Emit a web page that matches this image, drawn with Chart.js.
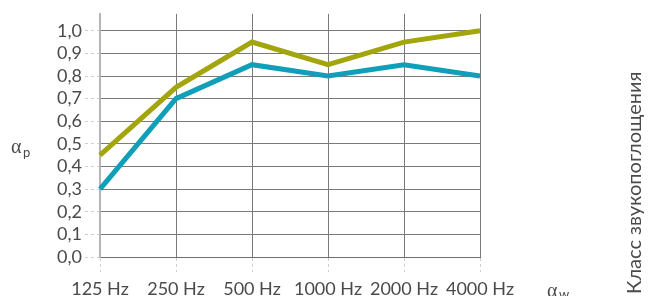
<!DOCTYPE html>
<html>
<head>
<meta charset="utf-8">
<script src="https://cdn.jsdelivr.net/npm/chart.js@4"></script>
<style>
  body { margin: 0; background: #fff; }
  canvas { display: block; }
</style>
</head>
<body>
<canvas id="absorptionChart" width="650" height="296"></canvas>
<script>
// Sound absorption chart
const frequencies = ['125 Hz', '250 Hz', '500 Hz', '1000 Hz', '2000 Hz', '4000 Hz'];
const upperValues = [0.45, 0.75, 0.95, 0.85, 0.95, 1.0];
const lowerValues = [0.30, 0.70, 0.85, 0.80, 0.85, 0.80];
const yTicks = [0, 0.1, 0.2, 0.3, 0.4, 0.5, 0.6, 0.7, 0.8, 0.9, 1.0];

const textColor = '#4a4a4a';
const labelFont = 'Lato';

// side labels drawn after the chart
const sideLabels = {
    id: 'sideLabels',
    afterDraw(chart) {
        const c = chart.ctx;
        c.save();
        c.fillStyle = textColor;
        c.textBaseline = 'alphabetic';
        c.textAlign = 'left';
        // alpha p
        c.font = '20px "Liberation Serif"';
        c.fillText('\u03b1', 11, 153);
        c.font = '13px ' + labelFont;
        c.fillText('p', 23, 157);
        // alpha w
        c.font = '20px "Liberation Serif"';
        c.fillText('\u03b1', 547, 297);
        c.font = '13px ' + labelFont;
        c.fillText('w', 559, 299);
        // vertical title
        c.translate(641, 294);
        c.rotate(-Math.PI / 2);
        c.font = '20px ' + labelFont;
        c.fillText('Класс звукопоглощения', 0, 0);
        c.restore();
    }
};

const ctx = document.getElementById('absorptionChart').getContext('2d');
const absorptionChart = new Chart(ctx, {
    type: 'line',
    data: {
        labels: frequencies,
        datasets: [{
            data: upperValues,
            borderColor: '#a2a50b',
            borderWidth: 5,
            pointRadius: 0,
            fill: false
        }, {
            data: lowerValues,
            borderColor: '#109fb8',
            borderWidth: 5,
            pointRadius: 0,
            fill: false
        }]
    },
    options: {
        responsive: false,
        animation: false,
        layout: { padding: { left: 0, right: 170, top: 13, bottom: 0 } },
        plugins: {
            legend: { display: false },
            tooltip: { enabled: false }
        },
        scales: {
            x: {
                type: 'category',
                offset: false,
                border: { color: '#6e6e6e', width: 1 },
                grid: {
                    color: '#7a7a7a',
                    lineWidth: 1,
                    tickLength: 15,
                    tickColor: '#cfcfcf',
                    tickBorderDash: [3, 3]
                },
                ticks: {
                    color: textColor,
                    font: { family: labelFont, size: 18 },
                    padding: 6,
                    maxRotation: 0,
                    autoSkip: false
                },
                afterFit(scale) { scale.height = 39; }
            },
            y: {
                min: 0,
                max: 1.075,
                border: { color: '#b5b5b5', width: 2 },
                grid: {
                    color: '#7a7a7a',
                    lineWidth: 1,
                    tickLength: 15,
                    tickColor: '#cfcfcf',
                    tickBorderDash: [3, 3]
                },
                ticks: {
                    color: textColor,
                    font: { family: labelFont, size: 18 },
                    padding: 3,
                    autoSkip: false,
                    callback: v => v.toFixed(1).replace('.', ',')
                },
                afterBuildTicks(scale) {
                    scale.ticks = yTicks.map(v => ({ value: v }));
                },
                afterFit(scale) { scale.width = 100; }
            }
        }
    },
    plugins: [sideLabels]
});
</script>
</body>
</html>
